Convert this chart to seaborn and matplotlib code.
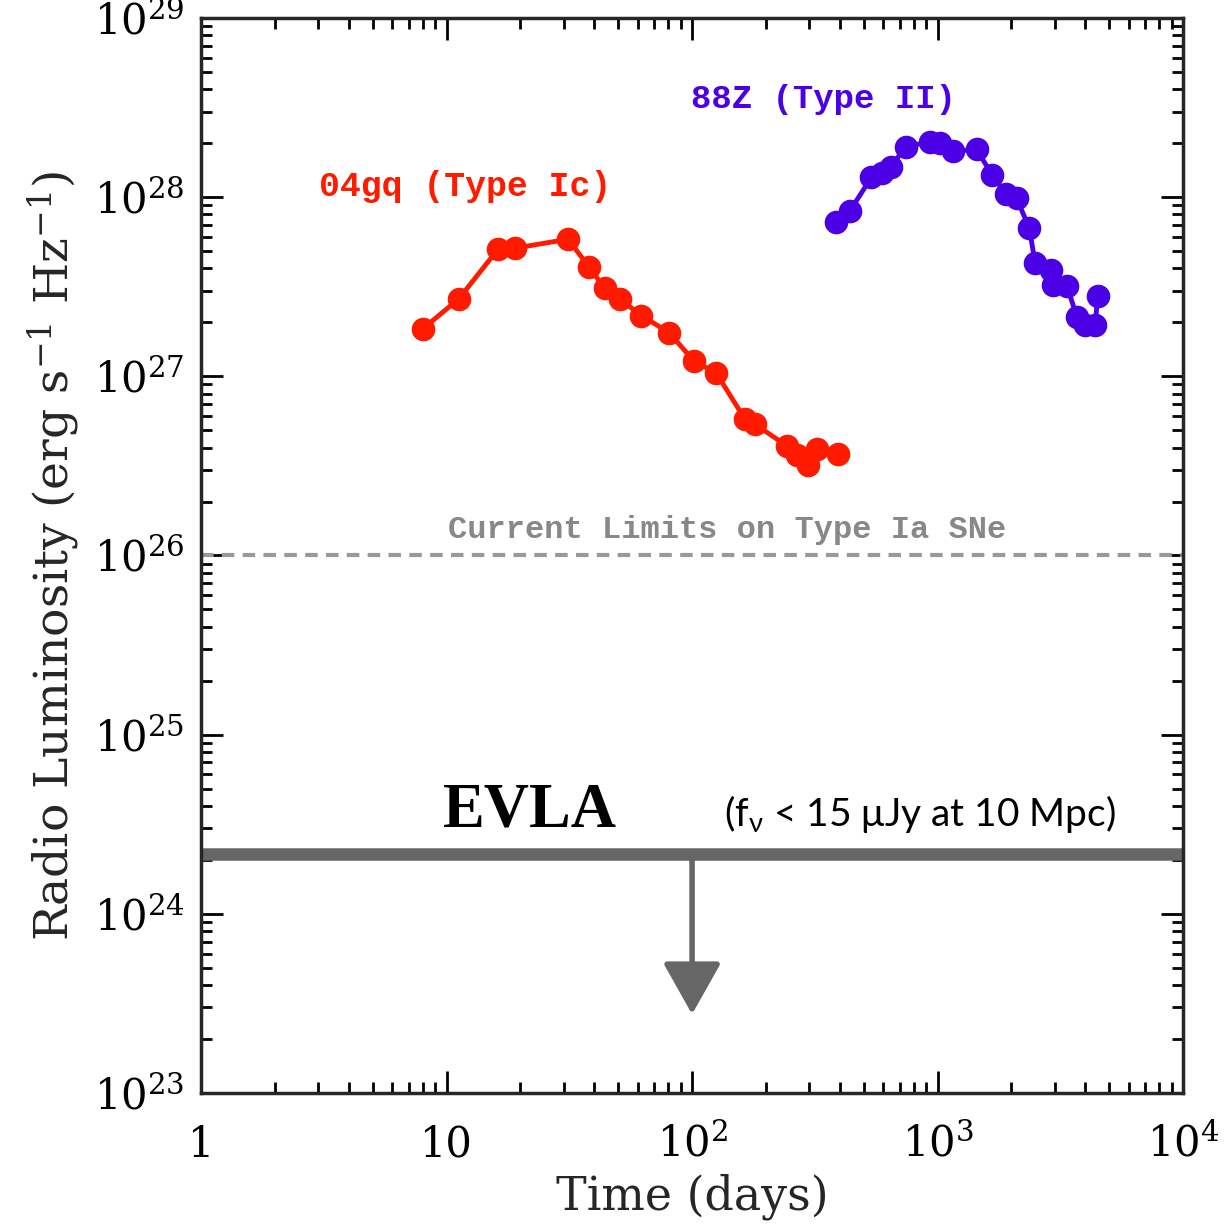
import numpy as np
import pandas as pd
import matplotlib
matplotlib.use("Agg")
import matplotlib.pyplot as plt
import seaborn as sns
from matplotlib.ticker import FixedLocator, FixedFormatter, LogLocator, NullFormatter

# SN 2004gq (Type Ic)
gq_days = [8.0, 11.2, 16.2, 19.0, 31.2, 38.2, 44.0, 50.9, 62.2, 80.8,
           102, 125, 164, 180, 243, 267, 296, 322, 392]
gq_lum = [1.84e27, 2.70e27, 5.12e27, 5.19e27, 5.82e27, 4.06e27, 3.10e27, 2.69e27,
          2.18e27, 1.75e27, 1.21e27, 1.05e27, 5.78e26, 5.42e26, 4.09e26, 3.64e26,
          3.18e26, 3.92e26, 3.67e26]

# SN 1988Z (Type II)
z_days = [385, 440, 538, 592, 644, 744, 931, 1023, 1152, 1442, 1667, 1908, 2098,
          2365, 2494, 2891, 2965, 3361, 3692, 3993, 4385, 4488]
z_lum = [7.24e27, 8.41e27, 1.29e28, 1.37e28, 1.48e28, 1.91e28, 2.04e28, 2.00e28,
         1.80e28, 1.85e28, 1.33e28, 1.04e28, 9.86e27, 6.70e27, 4.31e27, 3.92e27,
         3.24e27, 3.21e27, 2.15e27, 1.94e27, 1.94e27, 2.79e27]

ia_limit = 1e26
evla_limit = 2.16e24
arrow_day = 100
arrow_tip = 2.75e23

red = "#ff1a00"
blue = "#4b00e6"

sns.set_style("ticks")
plt.rcParams["font.family"] = ["DejaVu Serif"]
plt.rcParams["mathtext.fontset"] = "dejavuserif"

fig = plt.figure(figsize=(12.26, 12.30), dpi=100)
ax = fig.add_axes([0.164, 0.1114, 0.801, 0.874])

df_gq = pd.DataFrame({"days": gq_days, "lum": gq_lum})
df_z = pd.DataFrame({"days": z_days, "lum": z_lum})
sns.lineplot(data=df_gq, x="days", y="lum", ax=ax, color=red, lw=3.5, marker="o",
             markersize=17, markeredgewidth=0, sort=False)
sns.lineplot(data=df_z, x="days", y="lum", ax=ax, color=blue, lw=3.5, marker="o",
             markersize=17, markeredgewidth=0, sort=False)

ax.set_xscale("log")
ax.set_yscale("log")
ax.set_xlim(1, 1e4)
ax.set_ylim(1e23, 1e29)

ax.axhline(ia_limit, color="#999999", lw=3, ls=(0, (3, 2)))
ax.axhline(evla_limit, color="#666666", lw=9)
ax.annotate("", xy=(arrow_day, arrow_tip), xytext=(arrow_day, evla_limit),
            arrowprops=dict(arrowstyle="-|>,head_width=0.45,head_length=0.8",
                            color="#666666", lw=4, mutation_scale=40,
                            shrinkA=0, shrinkB=0))

mono = ["Liberation Mono", "DejaVu Sans Mono"]
ax.text(11.9, 1.14e28, "04gq (Type Ic)", color=red, fontsize=25, fontweight="bold",
        family=mono, ha="center", va="center")
ax.text(342, 3.49e28, "88Z (Type II)", color=blue, fontsize=24.5, fontweight="bold",
        family=mono, ha="center", va="center")
ax.text(139, 1.39e26, "Current Limits on Type Ia SNe", color="#888888", fontsize=23,
        fontweight="bold", family=mono, ha="center", va="center")
ax.text(21.9, 3.71e24, "EVLA", color="black", fontsize=45, fontweight="bold",
        family=["Liberation Serif", "DejaVu Serif"], ha="center", va="center")
ax.text(849, 3.6e24, r"(f$_\mathregular{ν}$ < 15 μJy at 10 Mpc)", color="black", fontsize=28,
        family=["Lato", "DejaVu Sans"], ha="center", va="center")

ax.xaxis.set_major_locator(FixedLocator([1, 10, 100, 1000, 10000]))
ax.xaxis.set_major_formatter(FixedFormatter(["1", "10", r"$10^2$", r"$10^3$", r"$10^4$"]))
ax.xaxis.set_minor_locator(LogLocator(base=10, subs=np.arange(2, 10), numticks=20))
ax.xaxis.set_minor_formatter(NullFormatter())
ytk = [1e23, 1e24, 1e25, 1e26, 1e27, 1e28, 1e29]
ax.yaxis.set_major_locator(FixedLocator(ytk))
ax.yaxis.set_major_formatter(FixedFormatter([r"$10^{%d}$" % e for e in range(23, 30)]))
ax.yaxis.set_minor_locator(LogLocator(base=10, subs=np.arange(2, 10), numticks=20))
ax.yaxis.set_minor_formatter(NullFormatter())

ax.tick_params(which="both", direction="in", top=True, right=True, width=2, colors="black")
ax.tick_params(which="major", length=16, labelsize=30)
ax.tick_params(axis="x", which="major", pad=22)
ax.tick_params(axis="y", which="major", pad=12)
ax.tick_params(which="minor", length=8)
for sp in ax.spines.values():
    sp.set_linewidth(2.5)
    sp.set_visible(True)

ax.set_xlabel("Time (days)", fontsize=33, labelpad=6)
ax.set_ylabel(r"Radio Luminosity (erg s$^{-1}$ Hz$^{-1}$)", fontsize=34, labelpad=8)

fig.savefig("out.png", dpi=100)
